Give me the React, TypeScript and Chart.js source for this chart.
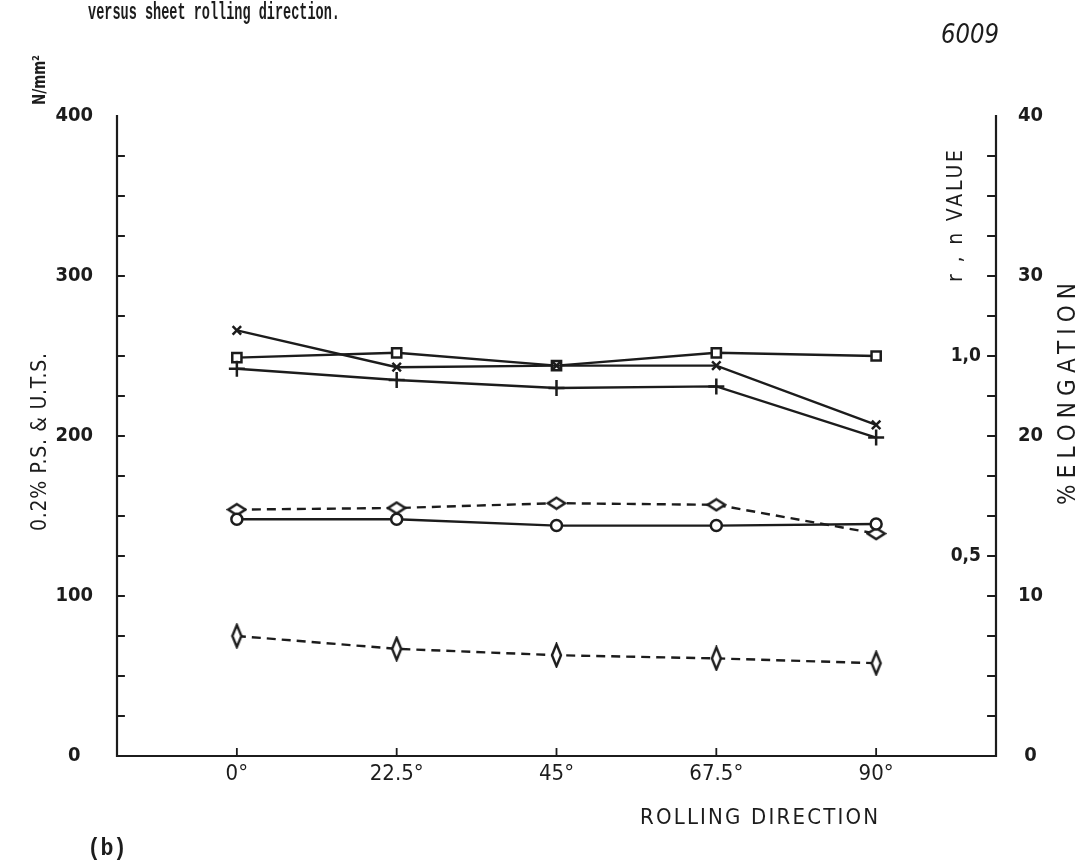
import { useEffect, useRef } from "react";
import { Chart, registerables } from "chart.js";

Chart.register(...registerables);

// Rolling direction (degrees from the rolling direction)
const directions = [0, 22.5, 45, 67.5, 90];
const directionLabels = ["0°", "22.5°", "45°", "67.5°", "90°"];

// Strength values, N/mm²
const utsValues = [266, 243, 244, 244, 207]; // ×
const proofValues = [242, 235, 230, 231, 199]; // +

// Elongation, %
const elongationTotal = [24.9, 25.2, 24.4, 25.2, 25.0]; // □
const elongationUniform = [14.8, 14.8, 14.4, 14.4, 14.5]; // ○

// r and n values
const rValues = [0.616, 0.62, 0.632, 0.628, 0.556]; // ◇ (wide)
const nValues = [0.3, 0.268, 0.252, 0.244, 0.232]; // ◇ (tall)

// Axis tick labels
const stressTicks = [0, 100, 200, 300, 400];
const elongationTicks = [0, 10, 20, 30, 40];
const rnTicks = [0.5, 1.0];

const INK = "#1c1c1c";
const CONDENSED = "'DejaVu Sans Condensed', 'Liberation Sans Narrow', 'DejaVu Sans', sans-serif";
const MONO = "'Liberation Mono', 'DejaVu Sans Mono', monospace";

function toPoints(values: number[]) {
  return values.map((v, i) => ({ x: directions[i], y: v }));
}

function diamondCanvas(w: number, h: number, lw: number) {
  const c = document.createElement("canvas");
  c.width = w + lw * 2;
  c.height = h + lw * 2;
  const ctx = c.getContext("2d")!;
  const cx = c.width / 2;
  const cy = c.height / 2;
  ctx.beginPath();
  ctx.moveTo(cx, cy - h / 2);
  ctx.lineTo(cx + w / 2, cy);
  ctx.lineTo(cx, cy + h / 2);
  ctx.lineTo(cx - w / 2, cy);
  ctx.closePath();
  ctx.fillStyle = "#fff";
  ctx.fill();
  ctx.lineWidth = lw;
  ctx.strokeStyle = INK;
  ctx.stroke();
  return c;
}

// Draws a text centred on (cx, cy) stretched or squeezed to a given length
function drawFitted(
  ctx: CanvasRenderingContext2D,
  text: string,
  cx: number,
  cy: number,
  width: number,
  font: string,
  vertical = false
) {
  ctx.save();
  ctx.translate(cx, cy);
  if (vertical) ctx.rotate(-Math.PI / 2);
  ctx.font = font;
  ctx.fillStyle = INK;
  ctx.textBaseline = "middle";
  ctx.textAlign = "left";
  (ctx as any).letterSpacing = "0px";
  const natural = ctx.measureText(text).width;
  if (natural >= width || text.length < 2) {
    ctx.fillText(text, -width / 2, 0, width);
  } else {
    const gap = (width - natural) / (text.length - 1);
    (ctx as any).letterSpacing = gap + "px";
    ctx.fillText(text, -width / 2, 0);
    (ctx as any).letterSpacing = "0px";
  }
  ctx.restore();
}

const frame = {
  id: "frame",
  afterDraw(chart: any) {
    const { ctx, chartArea, scales } = chart;
    const { left, right, bottom } = chartArea;
    const x = scales.x;
    const y = scales.y;
    const yE = scales.yE;
    const yR = scales.yR;

    ctx.save();
    ctx.strokeStyle = INK;
    ctx.lineWidth = 2.2;
    ctx.lineCap = "square";

    // axis lines
    ctx.beginPath();
    ctx.moveTo(left, y.getPixelForValue(400));
    ctx.lineTo(left, bottom);
    ctx.lineTo(right, bottom);
    ctx.lineTo(right, yE.getPixelForValue(40));
    ctx.stroke();

    // inward tick marks
    ctx.lineWidth = 1.8;
    ctx.beginPath();
    for (let v = 25; v < 400; v += 25) {
      const py = y.getPixelForValue(v);
      ctx.moveTo(left, py);
      ctx.lineTo(left + 7, py);
    }
    for (let v = 2.5; v < 40; v += 2.5) {
      const py = yE.getPixelForValue(v);
      ctx.moveTo(right, py);
      ctx.lineTo(right - 8, py);
    }
    directions.forEach((d) => {
      const px = x.getPixelForValue(d);
      ctx.moveTo(px, bottom);
      ctx.lineTo(px, bottom - 7);
    });
    ctx.stroke();

    // r, n value labels on the inner side of the right axis
    ctx.fillStyle = INK;
    ctx.font = `bold 19px ${CONDENSED}`;
    ctx.textAlign = "right";
    ctx.textBaseline = "middle";
    rnTicks.forEach((v) => {
      ctx.fillText(v.toFixed(1).replace(".", ","), right - 15, yR.getPixelForValue(v));
    });
    ctx.restore();

    // titles and captions
    drawFitted(ctx, "versus sheet rolling direction.", 214, 13, 252, `bold 23px ${MONO}`);
    drawFitted(ctx, "6009", 970, 36, 58, `italic 26px ${CONDENSED}`);
    drawFitted(ctx, "N/mm²", 41, 80, 50, `bold 17px ${CONDENSED}`, true);
    drawFitted(ctx, "0.2% P.S. & U.T.S.", 41, 442, 178, `21px ${CONDENSED}`, true);
    drawFitted(ctx, "r , n VALUE", 957, 216, 132, `21px ${CONDENSED}`, true);
    drawFitted(ctx, "%ELONGATION", 1069, 394, 222, `24px ${CONDENSED}`, true);
    drawFitted(ctx, "ROLLING DIRECTION", 759, 818, 238, `22px ${CONDENSED}`);
    drawFitted(ctx, "(b)", 107, 849, 39, `bold 24px ${MONO}`);
  },
};

export default function App() {
  const ref = useRef<HTMLCanvasElement | null>(null);

  useEffect(() => {
    if (!ref.current) return;
    const tallDiamond = diamondCanvas(9, 22, 2.4);
    const wideDiamond = diamondCanvas(17, 11, 2.4);

    const solid = {
      borderColor: INK,
      borderWidth: 2.4,
      pointBorderColor: INK,
      pointBackgroundColor: "#fff",
      pointBorderWidth: 2.5,
      fill: false,
      tension: 0,
    };

    const chart = new Chart(ref.current, {
      type: "line",
      data: {
        datasets: [
          {
            ...solid,
            label: "U.T.S.",
            data: toPoints(utsValues),
            yAxisID: "y",
            pointStyle: "crossRot",
            pointRadius: 6,
          },
          {
            ...solid,
            label: "0.2% P.S.",
            data: toPoints(proofValues),
            yAxisID: "y",
            pointStyle: "cross",
            pointRadius: 8,
          },
          {
            ...solid,
            label: "Elongation",
            data: toPoints(elongationTotal),
            yAxisID: "yE",
            pointStyle: "rect",
            pointRadius: 6.5,
          },
          {
            ...solid,
            label: "Uniform elongation",
            data: toPoints(elongationUniform),
            yAxisID: "yE",
            pointStyle: "circle",
            pointRadius: 5.5,
          },
          {
            ...solid,
            label: "r",
            data: toPoints(rValues),
            yAxisID: "yR",
            borderDash: [9, 6],
            pointStyle: wideDiamond as any,
          },
          {
            ...solid,
            label: "n",
            data: toPoints(nValues),
            yAxisID: "yR",
            borderDash: [9, 6],
            pointStyle: tallDiamond as any,
          },
        ],
      },
      options: {
        responsive: false,
        animation: false,
        devicePixelRatio: 1,
        layout: { padding: { top: 116, left: 0, right: 0, bottom: 0 } },
        plugins: { legend: { display: false }, tooltip: { enabled: false } },
        events: [],
        scales: {
          x: {
            type: "linear",
            min: -16.875,
            max: 106.875,
            afterBuildTicks: (s: any) => {
              s.ticks = directions.map((v) => ({ value: v }));
            },
            afterFit: (s: any) => {
              s.height = 107;
            },
            ticks: {
              autoSkip: false,
              maxRotation: 0,
              padding: 5,
              color: INK,
              font: { family: CONDENSED, size: 22 },
              callback: (v: any) => directionLabels[directions.indexOf(Number(v))] ?? "",
            },
            grid: { display: false, drawTicks: false },
            border: { display: false },
          },
          y: {
            position: "left",
            min: 0,
            max: 400,
            afterBuildTicks: (s: any) => {
              s.ticks = stressTicks.map((v) => ({ value: v }));
            },
            afterFit: (s: any) => {
              s.width = 117;
            },
            ticks: {
              crossAlign: "center",
              padding: 24,
              color: INK,
              font: { family: CONDENSED, size: 20, weight: "bold" },
            },
            grid: { display: false, drawTicks: false },
            border: { display: false },
          },
          yE: {
            position: "right",
            min: 0,
            max: 40,
            afterBuildTicks: (s: any) => {
              s.ticks = elongationTicks.map((v) => ({ value: v }));
            },
            afterFit: (s: any) => {
              s.width = 88;
            },
            ticks: {
              crossAlign: "center",
              padding: 22,
              color: INK,
              font: { family: CONDENSED, size: 20, weight: "bold" },
            },
            grid: { display: false, drawTicks: false },
            border: { display: false },
          },
          yR: {
            display: false,
            min: 0,
            max: 1.6,
          },
        },
      },
      plugins: [frame],
    });

    return () => chart.destroy();
  }, []);

  return (
    <div style={{ position: "absolute", left: 0, top: 0, width: 1084, height: 863, background: "#fff" }}>
      <canvas ref={ref} width={1084} height={863} style={{ display: "block" }} />
    </div>
  );
}
